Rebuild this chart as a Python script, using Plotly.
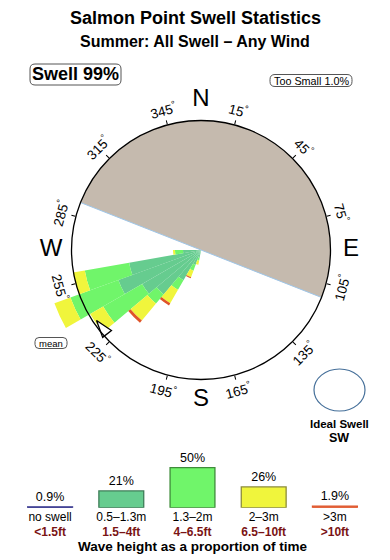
import math
import plotly.graph_objects as go

W, H = 390, 560
FONT = "Liberation Sans, Arial, Helvetica, sans-serif"

# ---------------- data ----------------
directions = [265, 255, 245, 235, 225, 215, 205, 195]
seg_05_13m = [1.8, 7.3, 8.8, 6.8, 5.8, 3.5, 1.6, 0.8]
seg_13_2m = [0.8, 4.5, 5.1, 4.5, 1.2, 1.1, 0.6, 0.3]
seg_2_3m = [0.2, 1.2, 1.7, 1.5, 2.2, 1.55, 0.7, 0.4]
seg_3m_plus = [0.0, 0.0, 0.0, 0.0, 0.3, 0.25, 0.1, 0.0]
sector_width = 10

land_from, land_to = 291.5, 111.5
mean_dir = 236
circle_r = 12.95

deg_ticks = [15, 45, 75, 105, 135, 165, 195, 225, 255, 285, 315, 345]
cardinals = ["N", "E", "S", "W"]
cardinal_dirs = [0, 90, 180, 270]

leg_pct = [0.9, 21, 50, 26, 1.9]
leg_m = ["no swell", "0.5–1.3m", "1.3–2m", "2–3m", "&gt;3m"]
leg_ft = ["&lt;1.5ft", "1.5–4ft", "4–6.5ft", "6.5–10ft", "&gt;10ft"]

# ---------------- styles ----------------
C_DARK = "#66CC8F"
C_GREEN = "#70F56A"
C_YEL = "#F0F53C"
C_RED = "#DF5429"
C_LAND = "#C5BAAE"
FT_COLOR = "#7A1414"


def px(x):
    return x / W


def py(y):
    return 1 - y / H


cx, cy, R = 201, 250, 160
big_dom_x = [px(cx - R), px(cx + R)]
big_dom_y = [py(cy + R), py(cy - R)]
rc = 129.5
small_dom_x = [px(cx - rc), px(cx + rc)]
small_dom_y = [py(cy + rc), py(cy - rc)]

fig = go.Figure()

# land sector
land_width = (land_to - land_from) % 360
land_center = (land_from + land_width / 2) % 360
fig.add_trace(go.Barpolar(r=[circle_r], theta=[land_center], width=[land_width],
                          marker=dict(color=C_LAND, line=dict(width=0)),
                          subplot="polar", showlegend=False, hoverinfo="skip"))

for seg, col in [(seg_05_13m, C_DARK), (seg_13_2m, C_GREEN), (seg_2_3m, C_YEL), (seg_3m_plus, C_RED)]:
    fig.add_trace(go.Barpolar(r=seg, theta=directions, width=[sector_width] * len(directions),
                              marker=dict(color=col, line=dict(width=0)),
                              subplot="polar", showlegend=False))

# land boundary
fig.add_trace(go.Scatterpolar(r=[circle_r, 0, circle_r], theta=[land_from, land_from, land_to],
                              mode="lines", line=dict(color="#9FC6E8", width=1),
                              subplot="polar", showlegend=False))

# mean arrow
fig.add_trace(go.Scatterpolar(r=[12.6], theta=[mean_dir], mode="markers",
                              marker=dict(symbol="arrow", size=18, angle=-38, color="white",
                                          line=dict(color="black", width=1.3)),
                              subplot="polar", showlegend=False))

# cardinal letters
fig.add_trace(go.Scatterpolar(r=[15.0] * 4, theta=cardinal_dirs, mode="text", text=cardinals,
                              textfont=dict(family=FONT, size=24, color="black"),
                              subplot="polar", showlegend=False, cliponaxis=False))

# dummy for circle axis subplot
fig.add_trace(go.Scatterpolar(r=[0], theta=[0], mode="markers", marker=dict(size=0.1, opacity=0),
                              subplot="polar2", showlegend=False))

# legend bars
fig.add_trace(go.Bar(x=list(range(5)), y=leg_pct, width=0.63,
                     marker=dict(color=["#2E2E8A", C_DARK, C_GREEN, C_YEL, C_RED],
                                 line=dict(color=["#2E2E8A", "#3E7D58", "#3E8C3A", "#8C8C3A", C_RED], width=1.3)),
                     text=[f"{v:g}%" for v in leg_pct], textposition="outside",
                     textfont=dict(family=FONT, size=12.5, color="black"),
                     cliponaxis=False, showlegend=False, xaxis="x", yaxis="y"))

polar_common = dict(bgcolor="rgba(0,0,0,0)")
fig.update_layout(
    width=W, height=H, margin=dict(l=0, r=0, t=0, b=0),
    paper_bgcolor="white", plot_bgcolor="rgba(0,0,0,0)",
    font=dict(family=FONT, color="black"),
    polar=dict(domain=dict(x=big_dom_x, y=big_dom_y), barmode="stack", bargap=0,
               radialaxis=dict(visible=False, range=[0, 16]),
               angularaxis=dict(visible=False, rotation=90, direction="clockwise"),
               **polar_common),
    polar2=dict(domain=dict(x=small_dom_x, y=small_dom_y),
                radialaxis=dict(visible=False, range=[0, 1]),
                angularaxis=dict(rotation=90, direction="clockwise", showline=True, linecolor="black",
                                 linewidth=1.3, showgrid=False, ticks="outside", ticklen=4,
                                 tickcolor="black", tickwidth=1, tickvals=deg_ticks,
                                 showticklabels=False),
                **polar_common),
    xaxis=dict(domain=[px(14.5), px(370.5)], range=[-0.5, 4.5], showgrid=False, zeroline=False,
               showline=False, ticks="", tickvals=list(range(5)),
               ticktext=[f"{m}<br><span style='color:{FT_COLOR}'><b>{f}</b></span>" for m, f in zip(leg_m, leg_ft)],
               tickfont=dict(family=FONT, size=12, color="black"),
               title=dict(text="<b>Wave height as a proportion of time</b>", standoff=2,
                          font=dict(family=FONT, size=13.5, color="black")),
               fixedrange=True),
    yaxis=dict(domain=[py(507.7), py(457.7)], range=[0, 62.5], visible=False, fixedrange=True),
    xaxis2=dict(domain=big_dom_x, range=[-16, 16], visible=False, anchor="y2"),
    yaxis2=dict(domain=big_dom_y, range=[-16, 16], visible=False, anchor="x2"),
)

annotations = []
for d in deg_ticks:
    a = math.radians(d)
    rr = 14.5
    ang = d if (d < 90) else (d - 360 if d > 270 else d - 180)
    annotations.append(dict(x=rr * math.sin(a), y=rr * math.cos(a), xref="x2", yref="y2",
                            text=f"{d}<sup>°</sup>", showarrow=False,
                            textangle=ang, font=dict(family=FONT, size=13.5, color="black"),
                            xanchor="center", yanchor="middle"))


def ann(x, y, text, size, bold=False, color="black"):
    t = f"<b>{text}</b>" if bold else text
    return dict(x=px(x), y=py(y), xref="paper", yref="paper", text=t, showarrow=False,
                font=dict(family=FONT, size=size, color=color), xanchor="center", yanchor="middle")


annotations += [
    ann(195, 18, "Salmon Point Swell Statistics", 18, True),
    ann(195, 42, "Summer: All Swell – Any Wind", 16, True),
    ann(75.5, 74.5, "Swell 99%", 18, True),
    ann(311, 80.5, "Too Small 1.0%", 10.8),
    ann(51, 343, "mean", 9.5),
    ann(339, 424, "Ideal Swell", 11.5, True),
    ann(339, 438, "SW", 12.5, True),
]
fig.update_layout(annotations=annotations)


def rrect(x0, y0, x1, y1, r):
    rx, ry = r / W, r / H
    X0, X1, Y0, Y1 = px(x0), px(x1), py(y1), py(y0)
    p = (f"M {X0+rx},{Y0} L {X1-rx},{Y0} Q {X1},{Y0} {X1},{Y0+ry} L {X1},{Y1-ry} "
         f"Q {X1},{Y1} {X1-rx},{Y1} L {X0+rx},{Y1} Q {X0},{Y1} {X0},{Y1-ry} "
         f"L {X0},{Y0+ry} Q {X0},{Y0} {X0+rx},{Y0} Z")
    return dict(type="path", path=p, xref="paper", yref="paper",
                line=dict(color="#555555", width=1), fillcolor="rgba(0,0,0,0)")


shapes = [
    rrect(30, 64, 121, 85, 5),
    rrect(270, 74.5, 352, 86.5, 5),
    rrect(35, 337.5, 67, 348.5, 4),
    dict(type="circle", xref="paper", yref="paper", x0=px(314), x1=px(365), y0=py(411), y1=py(369),
         line=dict(color="#46709A", width=1.2)),
]
fig.update_layout(shapes=shapes)

fig.write_html("out.html")
